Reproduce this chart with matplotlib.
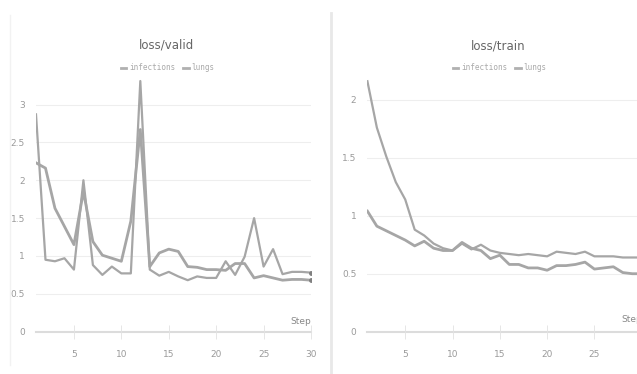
import matplotlib
matplotlib.use("Agg")
import matplotlib.pyplot as plt
from matplotlib import font_manager

steps = list(range(1, 31))

valid_infections = [2.87, 0.95, 0.93, 0.97, 0.82, 2.00, 0.88, 0.75, 0.86, 0.77,
                    0.77, 3.31, 0.82, 0.74, 0.79, 0.73, 0.68, 0.73, 0.71, 0.71,
                    0.93, 0.75, 0.99, 1.50, 0.86, 1.09, 0.76, 0.79, 0.79, 0.78]
valid_lungs = [2.23, 2.16, 1.63, 1.39, 1.15, 1.85, 1.19, 1.01, 0.97, 0.93,
               1.46, 2.67, 0.86, 1.04, 1.09, 1.06, 0.86, 0.85, 0.82, 0.82,
               0.81, 0.90, 0.90, 0.71, 0.74, 0.71, 0.68, 0.69, 0.69, 0.68]

train_infections = [2.16, 1.76, 1.51, 1.29, 1.14, 0.88, 0.83, 0.76, 0.72, 0.70,
                    0.76, 0.71, 0.75, 0.70, 0.68, 0.67, 0.66, 0.67, 0.66, 0.65,
                    0.69, 0.68, 0.67, 0.69, 0.65, 0.65, 0.65, 0.64, 0.64, 0.64]
train_lungs = [1.04, 0.91, 0.87, 0.83, 0.79, 0.74, 0.78, 0.72, 0.70, 0.70,
               0.77, 0.72, 0.70, 0.63, 0.66, 0.58, 0.58, 0.55, 0.55, 0.53,
               0.57, 0.57, 0.58, 0.60, 0.54, 0.55, 0.56, 0.51, 0.50, 0.50]

series_names = ["infections", "lungs"]
valid_yticks = [0, 0.5, 1, 1.5, 2, 2.5, 3]
train_yticks = [0, 0.5, 1, 1.5, 2]
valid_xticks = [5, 10, 15, 20, 25, 30]
train_xticks = [5, 10, 15, 20, 25]

names = {f.name for f in font_manager.fontManager.ttflist}
narrow = "Liberation Sans Narrow" if "Liberation Sans Narrow" in names else "DejaVu Sans"
plt.rcParams["font.family"] = [narrow, "DejaVu Sans"]

W, H = 637, 374
fig = plt.figure(figsize=(W / 100, H / 100), dpi=100)
fig.patch.set_facecolor("white")

def px_axes(x0, x1, ybot, ytop):
    return fig.add_axes([x0 / W, 1 - ybot / H, (x1 - x0) / W, (ybot - ytop) / H])

line_col = "#a6a6a6"
grid_col = "#eeeeee"
tick_col = "#9a9a9a"

def style(ax, yticks, xticks, xlim, ylim):
    ax.set_xlim(*xlim)
    ax.set_ylim(*ylim)
    for s in ax.spines.values():
        s.set_visible(False)
    ax.set_yticks(yticks)
    ax.set_yticklabels([f"{v:g}" for v in yticks])
    ax.set_xticks(xticks)
    ax.set_xticklabels([str(v) for v in xticks])
    ax.tick_params(axis="y", length=0, pad=8, labelsize=6.5, labelcolor=tick_col)
    ax.tick_params(axis="x", length=10, width=0.6, color="#e2e2e2", direction="inout",
                   pad=8, labelsize=6.5, labelcolor=tick_col)
    for v in yticks[1:]:
        ax.axhline(v, color=grid_col, lw=0.8, zorder=0)
    ax.axhline(0, color="#dcdcdc", lw=1.5, zorder=1, clip_on=False)
    ax.set_facecolor("white")
    ax.patch.set_alpha(0)

# left panel
ax1 = px_axes(36, 311, 331.7, 78)
ax1.plot(steps, valid_infections, color=line_col, lw=1.6, label=series_names[0], zorder=3)
ax1.plot(steps, valid_lungs, color=line_col, lw=2.0, label=series_names[1], zorder=3)
ax1.plot([steps[-1]], [valid_infections[-1]], "o", color="#808080", ms=2.5, zorder=4)
ax1.plot([steps[-1]], [valid_lungs[-1]], "o", color="#808080", ms=2.5, zorder=4)
style(ax1, valid_yticks, valid_xticks, (1, 30), (0, 3.35))
ax1.text(30, 0.07, "Step", ha="right", va="bottom", fontsize=6.5, color="#888888",
         transform=ax1.transData)

# right panel
ax2 = px_axes(367.4, 637, 331.7, 65)
ax2.plot(steps, train_infections, color=line_col, lw=1.6, label=series_names[0], zorder=3)
ax2.plot(steps, train_lungs, color=line_col, lw=2.0, label=series_names[1], zorder=3)
style(ax2, train_yticks, train_xticks, (1, 29.5), (0, 2.3))
ax2.text(30.0, 0.07, "Step", ha="right", va="bottom", fontsize=6.5, color="#888888",
         transform=ax2.transData, clip_on=False)

# titles and legends
fig.text(167 / W, 1 - 45 / H, "loss/valid", ha="center", va="center", fontsize=8.5, color="#666666")
fig.text(498 / W, 1 - 46 / H, "loss/train", ha="center", va="center", fontsize=8.5, color="#666666")

for ax, cx in ((ax1, 168), (ax2, 500)):
    leg = ax.legend(loc="center", bbox_to_anchor=(cx / W, 1 - 68 / H),
                    bbox_transform=fig.transFigure, ncol=2, frameon=False,
                    handlelength=0.7, handletextpad=0.4, columnspacing=1.0,
                    prop={"family": "DejaVu Sans Mono", "size": 5.5})
    for t in leg.get_texts():
        t.set_color("#aaaaaa")
    for h in leg.get_lines():
        h.set_linewidth(2)
        h.set_color("#b0b0b0")

# faint panel borders
fig.add_artist(plt.Line2D([10 / W, 10 / W], [1 - 365 / H, 1 - 15 / H], color="#f2f2f2", lw=1))
fig.add_artist(plt.Line2D([331 / W, 331 / W], [1 - 374 / H, 1 - 13 / H], color="#e8e8e8", lw=2))

fig.savefig("out.png", dpi=100, facecolor="white")
